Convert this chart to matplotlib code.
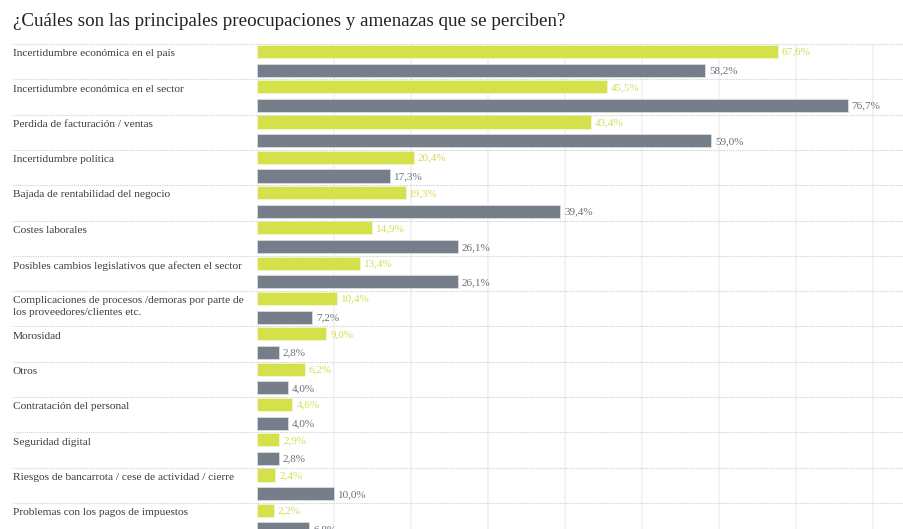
import matplotlib.pyplot as plt
from matplotlib.transforms import blended_transform_factory
from matplotlib.lines import Line2D
import numpy as np

plt.rcParams['font.family'] = ['Liberation Serif', 'DejaVu Serif']

title = "¿Cuáles son las principales preocupaciones y amenazas que se perciben?"

categories = [
    "Incertidumbre económica en el país",
    "Incertidumbre económica en el sector",
    "Perdida de facturación / ventas",
    "Incertidumbre política",
    "Bajada de rentabilidad del negocio",
    "Costes laborales",
    "Posibles cambios legislativos que afecten el sector",
    "Complicaciones de procesos /demoras por parte de\nlos proveedores/clientes etc.",
    "Morosidad",
    "Otros",
    "Contratación del personal",
    "Seguridad digital",
    "Riesgos de bancarrota / cese de actividad / cierre",
    "Problemas con los pagos de impuestos",
]
green_vals = [67.6, 45.5, 43.4, 20.4, 19.3, 14.9, 13.4, 10.4, 9.0, 6.2, 4.6, 2.9, 2.4, 2.2]
grey_vals = [58.2, 76.7, 59.0, 17.3, 39.4, 26.1, 26.1, 7.2, 2.8, 4.0, 4.0, 2.8, 10.0, 6.8]

GREEN = '#d5e14a'
GREEN_TXT = '#d2dd52'
GREY = '#767e89'
GREY_TXT = '#6a717b'

W, H = 904, 529
fig = plt.figure(figsize=(W / 100, H / 100), dpi=100)
# axes spans from the bar origin to the right edge, below the title
ax = fig.add_axes([257 / W, 0, 1 - 257 / W, 1 - 44 / H])
row_h = 35.3
ax.set_xlim(0, (W - 257) / 7.7)
ax.set_ylim((H - 44) / row_h, 0)
ax.axis('off')

# light vertical gridlines every 10%
for g in range(10, 90, 10):
    ax.axvline(g, color='#f1f1f1', lw=1.2, zorder=0)

y = np.arange(len(categories))
bh = 0.37
ax.barh(y + 0.21, green_vals, height=bh, color=GREEN, edgecolor='#f4f7d0', lw=0.6, zorder=2)
ax.barh(y + 0.74, grey_vals, height=bh, color=GREY, edgecolor='#d8dbe0', lw=0.6, zorder=2)

def fmt(v):
    return f"{v:.1f}%".replace('.', ',')

for i, (gv, rv) in enumerate(zip(green_vals, grey_vals)):
    ax.text(gv + 0.5, i + 0.23, fmt(gv), color=GREEN_TXT, fontsize=8, va='center', ha='left')
    ax.text(rv + 0.5, i + 0.76, fmt(rv), color=GREY_TXT, fontsize=8, va='center', ha='left')

# category labels and dotted separators span the full width
trans = blended_transform_factory(fig.transFigure, ax.transData)
for i, cat in enumerate(categories):
    ax.text(13 / W, i + 0.15, cat, transform=trans, fontsize=8.2, color='#3a3a3a',
            va='top', ha='left', linespacing=1.4)
    ln = Line2D([13 / W, 1], [i, i], transform=trans, color='#cfcfcf', lw=0.8,
                linestyle=(0, (1, 1)), clip_on=False, zorder=1)
    fig.add_artist(ln)

fig.text(13 / W, 1 - 21 / H, title, fontsize=13.7, color='#222222', va='center', ha='left')

fig.savefig('out.png', dpi=100)
